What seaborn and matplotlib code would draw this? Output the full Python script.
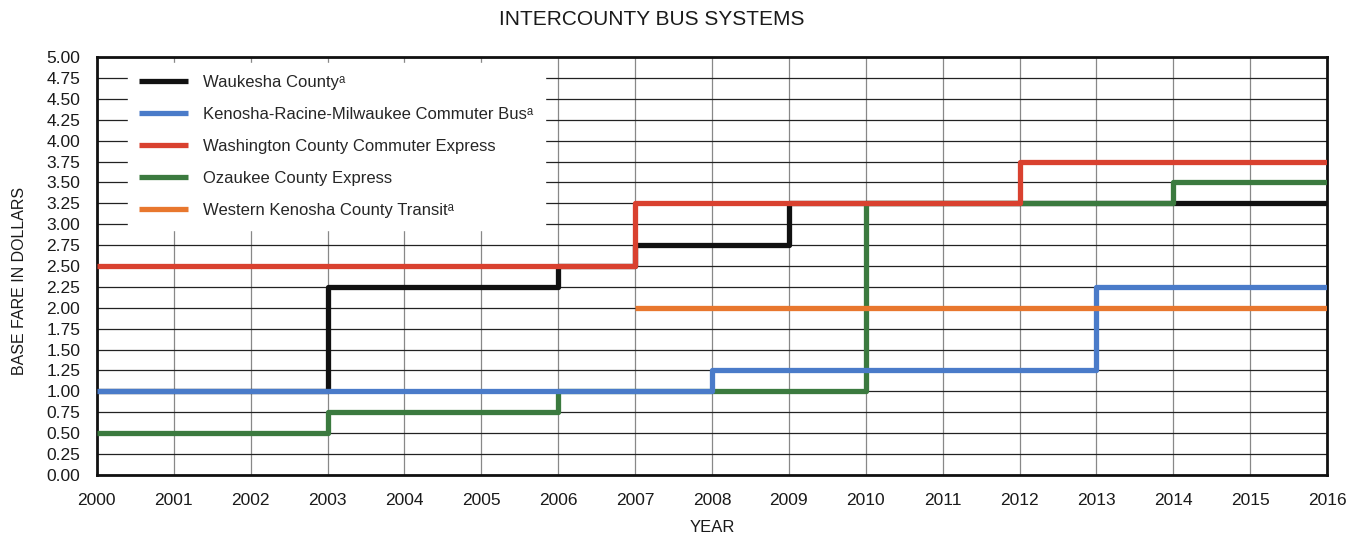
import pandas as pd
import matplotlib.pyplot as plt
import seaborn as sns

# fare change points (step-post), last point closes the line at 2016
waukesha_years = [2000, 2003, 2006, 2007, 2009, 2016]
waukesha_fares = [1.00, 2.25, 2.50, 2.75, 3.25, 3.25]

krm_years = [2000, 2008, 2013, 2016]
krm_fares = [1.00, 1.25, 2.25, 2.25]

washington_years = [2000, 2007, 2012, 2016]
washington_fares = [2.50, 3.25, 3.75, 3.75]

ozaukee_years = [2000, 2003, 2006, 2010, 2014, 2016]
ozaukee_fares = [0.50, 0.75, 1.00, 3.25, 3.50, 3.50]

western_years = [2007, 2016]
western_fares = [2.00, 2.00]

series_names = [
    "Waukesha Countyᵃ",
    "Kenosha-Racine-Milwaukee Commuter Busᵃ",
    "Washington County Commuter Express",
    "Ozaukee County Express",
    "Western Kenosha County Transitᵃ",
]
series_colors = ["#111111", "#4a7bc9", "#d9412f", "#3b7a3f", "#e8772e"]
series_z = [3, 5, 6, 4, 7]

year_ticks = list(range(2000, 2017))
fare_ticks = [i * 0.25 for i in range(21)]


def build_frame():
    parts = []
    data = [(waukesha_years, waukesha_fares), (krm_years, krm_fares),
            (washington_years, washington_fares), (ozaukee_years, ozaukee_fares),
            (western_years, western_fares)]
    for name, (yrs, fares) in zip(series_names, data):
        parts.append(pd.DataFrame({"Year": yrs, "Fare": fares, "System": name}))
    return pd.concat(parts, ignore_index=True)


def create_chart():
    sns.set_theme(style="white")
    plt.rcParams["font.family"] = ["Liberation Sans", "DejaVu Sans"]

    df = build_frame()

    fig, ax = plt.subplots(figsize=(13.64, 5.39), dpi=100)
    fig.subplots_adjust(left=0.071, right=0.973, top=0.894, bottom=0.119)

    for name, color, z in zip(series_names, series_colors, series_z):
        sub = df[df["System"] == name]
        sns.lineplot(data=sub, x="Year", y="Fare", ax=ax, color=color,
                     linewidth=3.8, drawstyle="steps-post", label=name,
                     estimator=None, zorder=z, solid_capstyle="butt")

    ax.set_xlim(2000, 2016)
    ax.set_ylim(0, 5)
    ax.set_xticks(year_ticks)
    ax.set_yticks(fare_ticks)
    ax.set_yticklabels([f"{v:.2f}" for v in fare_ticks])
    ax.tick_params(axis="both", length=0, labelsize=12.5, colors="#1a1a1a")
    ax.tick_params(axis="x", pad=13)
    ax.tick_params(axis="y", pad=12)

    ax.grid(axis="y", color="#222222", linewidth=0.9, zorder=1)
    ax.grid(axis="x", color="#888888", linewidth=0.9, zorder=1)
    ax.set_axisbelow(True)
    for side in ["left", "right", "top", "bottom"]:
        ax.spines[side].set_visible(True)
        ax.spines[side].set_color("#111111")
        ax.spines[side].set_linewidth(2.0)

    fig.text(0.478, 0.964, "INTERCOUNTY BUS SYSTEMS", fontsize=15,
             ha="center", va="center", color="#1a1a1a")
    ax.set_xlabel("YEAR", fontsize=12, labelpad=9, color="#1a1a1a")
    ax.set_ylabel("BASE FARE IN DOLLARS", fontsize=11.5, labelpad=14,
                  color="#1a1a1a", y=0.464)

    leg = ax.legend(loc="upper left", bbox_to_anchor=(0.025, 0.985), frameon=True,
                    fontsize=12, handlelength=2.9, handletextpad=0.95,
                    labelspacing=1.02, borderpad=0.7, fancybox=False,
                    borderaxespad=0)
    leg.get_frame().set_facecolor("white")
    leg.get_frame().set_edgecolor("white")
    leg.get_frame().set_alpha(1.0)
    leg.set_zorder(10)

    fig.savefig("out.png", dpi=100)
    plt.close(fig)


if __name__ == "__main__":
    create_chart()
